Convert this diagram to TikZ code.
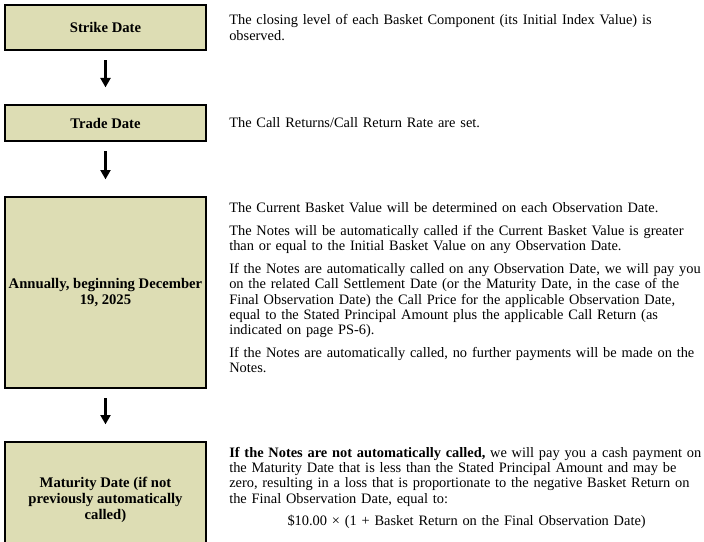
\documentclass[tikz,border=0pt]{standalone}
\usepackage{fontspec}
\setmainfont{Liberation Serif}
\usepackage{xcolor}
\usetikzlibrary{arrows.meta,positioning}

\definecolor{boxfill}{RGB}{221,221,180}

\tikzset{
  datebox/.style={draw, line width=1.5pt, fill=boxfill, minimum width=150.75pt,
    align=center, inner sep=1pt, font=\fontsize{11}{11.8}\selectfont\bfseries},
  desc/.style={anchor=west, text width=362pt, align=left, inner sep=0pt,
    font=\fontsize{10.8}{11.5}\selectfont},
  flow/.style={-{Triangle[width=7.5pt,length=7pt]}, line width=1.6pt,
    shorten <=7pt, shorten >=12.5pt},
}

\begin{document}
\begin{tikzpicture}[x=0.75pt, y=-0.75pt]
  \clip (0,0) rectangle (704,542);

  % Date boxes
  \node[datebox, minimum height=33.75pt] (strike) at (105.5,27.5) {Strike Date};
  \node[datebox, minimum height=27pt] (trade) at (105.5,123) {Trade Date};
  \node[datebox, minimum height=143.25pt] (annual) at (105.5,292.5)
    {Annually, beginning December\\19, 2025};
  \node[datebox, minimum height=87pt] (maturity) at (105.5,500)
    {Maturity Date (if not\\previously automatically\\called)};

  % Arrows
  \draw[flow] (strike) -- (trade);
  \draw[flow] (trade) -- (annual);
  \draw[flow] (annual) -- (maturity);

  % Descriptions
  \node[desc] (strikeText) at (229,27.5)
    {The closing level of each Basket Component (its Initial Index Value) is\\
     observed.};
  \node[desc] (tradeText) at (229,123) {The Call Returns/Call Return Rate are set.};
  \node[desc] (annualText) at (229,288)
    {The Current Basket Value will be determined on each Observation Date.\\[5.5pt]
     The Notes will be automatically called if the Current Basket Value is greater\\
     than or equal to the Initial Basket Value on any Observation Date.\\[5.5pt]
     If the Notes are automatically called on any Observation Date, we will pay you\\
     on the related Call Settlement Date (or the Maturity Date, in the case of the\\
     Final Observation Date) the Call Price for the applicable Observation Date,\\
     equal to the Stated Principal Amount plus the applicable Call Return (as\\
     indicated on page PS-6).\\[5.5pt]
     If the Notes are automatically called, no further payments will be made on the\\
     Notes.};
  \node[desc] (maturityText) at (229,488)
    {\textbf{If the Notes are not automatically called,} we will pay you a cash payment on\\
     the Maturity Date that is less than the Stated Principal Amount and may be\\
     zero, resulting in a loss that is proportionate to the negative Basket Return on\\
     the Final Observation Date, equal to:\\[5.5pt]
     \makebox[356pt][c]{\$10.00 × (1 + Basket Return on the Final Observation Date)}};
\end{tikzpicture}
\end{document}
